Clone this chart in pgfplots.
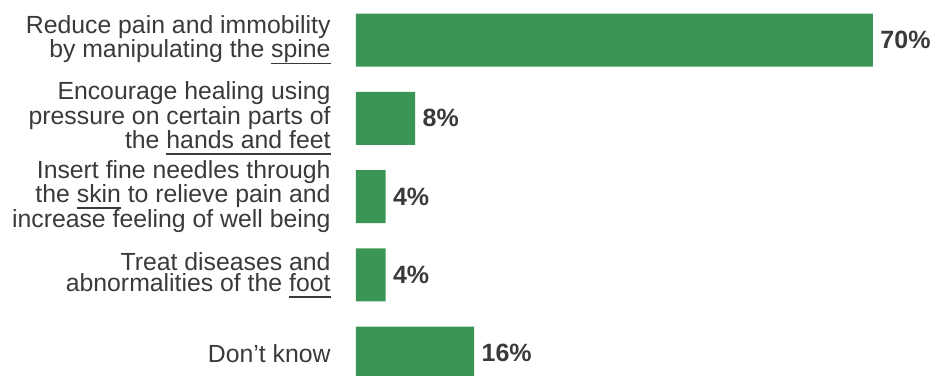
\documentclass[border=0pt]{standalone}
\usepackage{pgfplots}
\pgfplotsset{compat=1.18}
\usepackage{fontspec}
\setmainfont{Liberation Sans}
\definecolor{barg}{HTML}{3B9656}
\definecolor{txt}{HTML}{3A3A3A}
\newsavebox{\ulbox}
\newcommand{\ul}[1]{\sbox{\ulbox}{#1}\rlap{\rule[-6.5pt]{\wd\ulbox}{1.6pt}}\usebox{\ulbox}}
\begin{document}
\begin{tikzpicture}
\begin{axis}[
  xbar, scale only axis,
  width=576pt, height=375pt,
  xmin=0, xmax=78,
  ymin=-0.511, ymax=4.278, y dir=reverse,
  bar width=53pt,
  axis line style={draw=none},
  tick style={draw=none},
  xtick=\empty,
  ytick={0,1,2,3,4},
  yticklabels={
    {Reduce pain and immobility\\by manipulating the \ul{spine}},
    {Encourage healing using\\pressure on certain parts of\\the \ul{hands and feet}},
    {Insert fine needles through\\the \ul{skin} to relieve pain and\\increase feeling of well being},
    {Treat diseases and\\abnormalities of the \ul{foot}},
    {Don’t know}},
  yticklabel style={align=right, font=\fontsize{24.8}{21}\selectfont, text=txt, inner sep=0pt, xshift=-21pt},
  /pgf/number format/assume math mode=true,
  nodes near coords={\pgfmathprintnumber{\pgfplotspointmeta}\%},
  nodes near coords style={font=\fontsize{25}{26}\selectfont\bfseries, text=txt, anchor=west, xshift=4pt},
  clip=false,
]
\addplot[fill=barg, draw=none] coordinates {(70,0) (8,1) (4,2) (4,3) (16,4)};
\end{axis}
\pgfresetboundingbox
\useasboundingbox (current axis.south west) ++(-356pt,0pt) rectangle ([xshift=0pt]current axis.north east);
\end{tikzpicture}
\end{document}
